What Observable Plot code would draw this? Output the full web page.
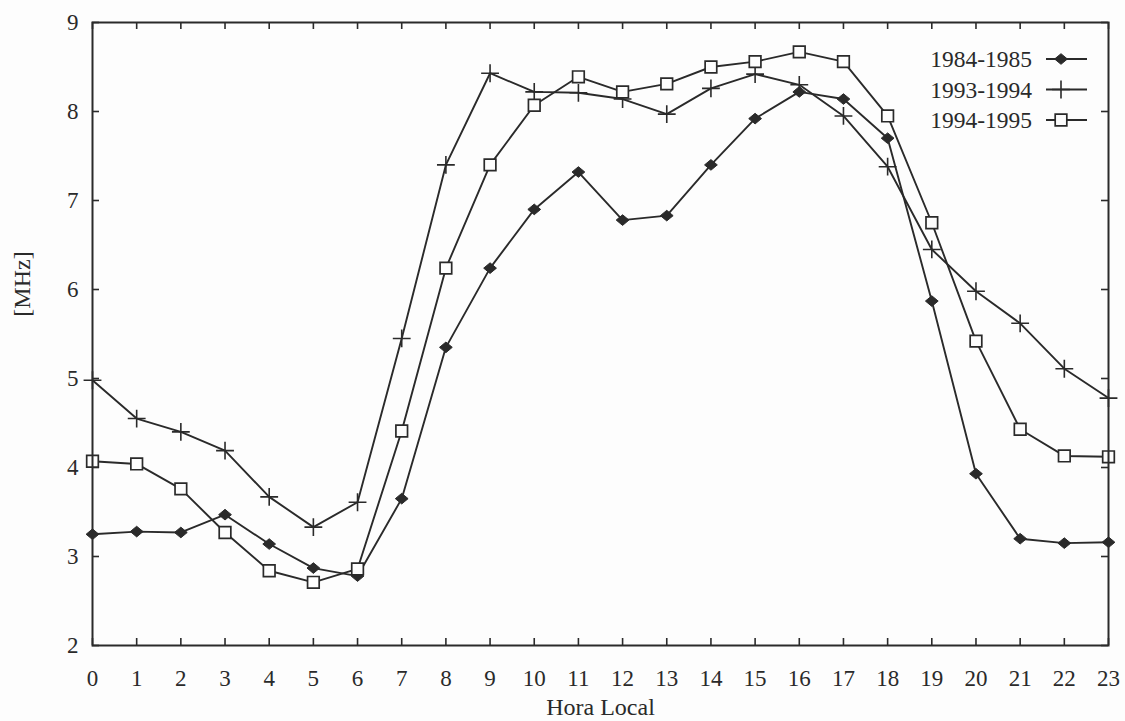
<!DOCTYPE html>
<html><head><meta charset="utf-8">
<script src="https://cdn.jsdelivr.net/npm/d3@7"></script>
<script src="https://cdn.jsdelivr.net/npm/@observablehq/plot@0.6"></script>
<style>html,body{margin:0;padding:0;background:#fdfdfd} svg{display:block}</style>
</head><body><div id="chart"></div>
<script>
const hours = [0,1,2,3,4,5,6,7,8,9,10,11,12,13,14,15,16,17,18,19,20,21,22,23];
const series = ["1984-1985", "1993-1994", "1994-1995"];
const v1984 = [3.25,3.28,3.27,3.47,3.14,2.87,2.78,3.65,5.35,6.24,6.90,7.32,6.78,6.83,7.40,7.92,8.22,8.14,7.70,5.87,3.93,3.20,3.15,3.16];
const v1993 = [4.98,4.55,4.40,4.19,3.67,3.33,3.61,5.45,7.40,8.43,8.22,8.21,8.14,7.97,8.26,8.42,8.30,7.95,7.38,6.45,5.98,5.62,5.11,4.78];
const v1994 = [4.07,4.04,3.76,3.27,2.84,2.71,2.86,4.41,6.24,7.40,8.07,8.39,8.22,8.31,8.50,8.56,8.67,8.56,7.95,6.75,5.42,4.43,4.13,4.12];
const yTicks = [2,3,4,5,6,7,8,9];
const xLabel = "Hora Local";
const yLabel = "[MHz]";

const ink = "#2a2a2a";
const bg = "#fdfdfd";
const font = "Liberation Serif";

// wide filled diamond marker
const wideDiamond = {
  draw(ctx, size) {
    const h = Math.sqrt(size) * 0.5;
    const w = h * 1.2;
    ctx.moveTo(0, -h); ctx.lineTo(w, 0); ctx.lineTo(0, h); ctx.lineTo(-w, 0); ctx.closePath();
  }
};

const valuesBySeries = [v1984, v1993, v1994];
const rows = [];
valuesBySeries.forEach((vals, si) => vals.forEach((v, i) => rows.push({series: series[si], hour: hours[i], value: v})));
const rowsOf = s => rows.filter(d => d.series === s);

const W = 1125, H = 721, mL = 92, mR = 17, mT = 22, mB = 76;
const innerW = W - mL - mR, innerH = H - mT - mB;
const tk = 7;

const plot = Plot.plot({
  width: W, height: H,
  marginLeft: mL, marginRight: mR, marginTop: mT, marginBottom: mB,
  style: {fontFamily: font, fontSize: "23px", color: ink, background: bg},
  x: {domain: [0, 23]},
  y: {domain: [2, 9]},
  marks: [
    Plot.tickX(hours, {x: d => d, insetTop: innerH - tk, stroke: ink, strokeWidth: 1.6}),
    Plot.tickX(hours, {x: d => d, insetBottom: innerH - tk, stroke: ink, strokeWidth: 1.6}),
    Plot.tickY(yTicks, {y: d => d, insetRight: innerW - tk, stroke: ink, strokeWidth: 1.6}),
    Plot.tickY(yTicks, {y: d => d, insetLeft: innerW - tk, stroke: ink, strokeWidth: 1.6}),
    Plot.axisX(hours, {anchor: "bottom", tickSize: 0, tickPadding: 24, label: null, fontSize: 23, fill: ink, tickFormat: d3.format("d")}),
    Plot.axisY(yTicks, {anchor: "left", tickSize: 0, tickPadding: 14, label: null, fontSize: 23, fill: ink, tickFormat: d3.format("d")}),
    Plot.text([yLabel], {frameAnchor: "left", textAnchor: "middle", lineAnchor: "middle", dx: -70, dy: -50, rotate: -90, fontSize: 24, fill: ink}),
    Plot.text([xLabel], {frameAnchor: "bottom", textAnchor: "middle", lineAnchor: "middle", dy: 62, fontSize: 24, fill: ink}),
    Plot.line(rows, {x: "hour", y: "value", z: "series", stroke: ink, strokeWidth: 1.9}),
    Plot.dot(rowsOf(series[0]), {x: "hour", y: "value", symbol: wideDiamond, r: 6, fill: ink, stroke: ink, strokeWidth: 1}),
    Plot.dot(rowsOf(series[1]), {x: "hour", y: "value", symbol: "plus", r: 5.8, stroke: ink, strokeWidth: 1.6}),
    Plot.dot(rowsOf(series[2]), {x: "hour", y: "value", symbol: "square2", r: 7.4, fill: bg, stroke: ink, strokeWidth: 1.7}),
    Plot.frame({stroke: ink, strokeWidth: 2})
  ]
});

// legend inside top-right
const svg = d3.select(plot);
const legSymbols = [
  {type: wideDiamond, size: Math.PI * 36, fill: ink, sw: 1},
  {type: d3.symbolPlus, size: Math.PI * 5.8 * 5.8, fill: "none", sw: 1.6},
  {type: d3.symbolSquare2, size: Math.PI * 7.4 * 7.4, fill: bg, sw: 1.7}
];
const lg = svg.append("g").attr("font-family", font).attr("font-size", 23.5).attr("fill", ink);
series.forEach((s, i) => {
  const y = 59 + i * 30.5;
  lg.append("text").attr("x", 1032).attr("y", y).attr("dy", "0.35em").attr("text-anchor", "end").text(s);
  lg.append("line").attr("x1", 1046).attr("x2", 1087).attr("y1", y).attr("y2", y).attr("stroke", ink).attr("stroke-width", 1.9);
  lg.append("path").attr("transform", `translate(1061,${y})`)
    .attr("d", d3.symbol(legSymbols[i].type, legSymbols[i].size)())
    .attr("fill", legSymbols[i].fill).attr("stroke", ink).attr("stroke-width", legSymbols[i].sw);
});

document.getElementById("chart").append(plot);
</script>
</body></html>
